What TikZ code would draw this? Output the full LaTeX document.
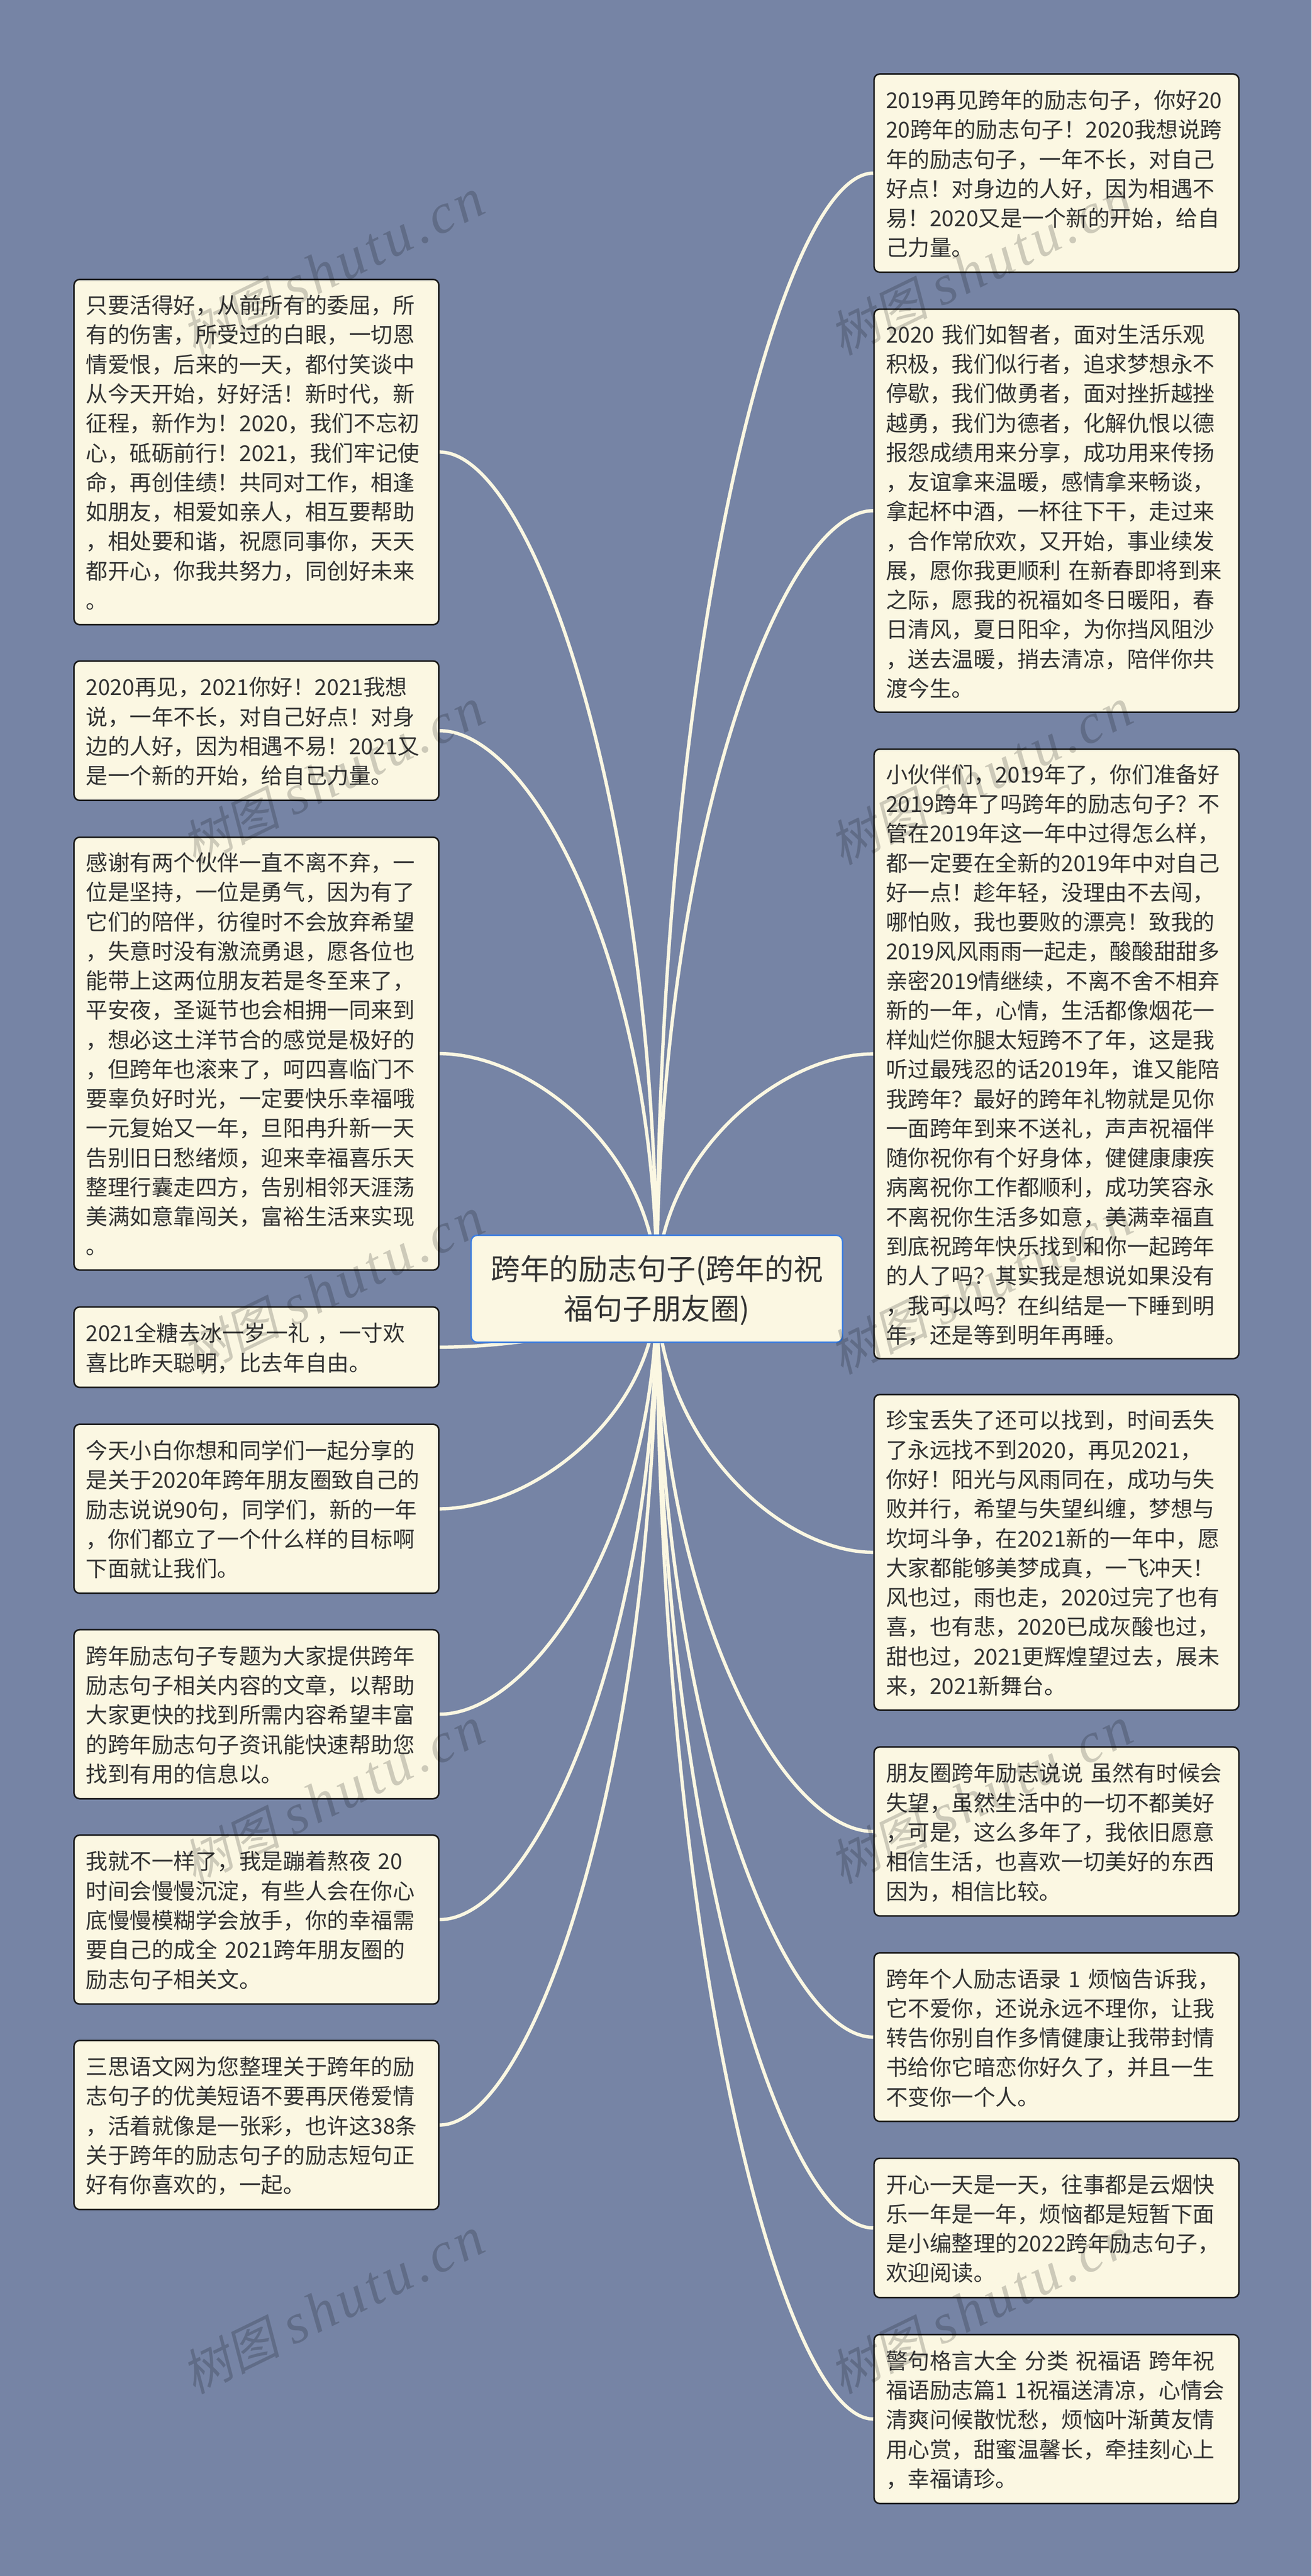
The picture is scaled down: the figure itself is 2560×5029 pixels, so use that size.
\documentclass[tikz,border=0pt]{standalone}
\usepackage{fontspec}
\usetikzlibrary{calc}
\setmainfont{Noto Sans CJK SC}
\newfontfamily\wmcjk[FakeSlant=0.2]{Noto Sans CJK SC}
\newfontfamily\wmlat[LetterSpace=7]{Liberation Serif}
\definecolor{bgc}{RGB}{118,132,165}
\definecolor{boxc}{RGB}{251,247,226}
\definecolor{txtc}{RGB}{51,51,51}
\definecolor{edgec}{RGB}{26,26,26}
\definecolor{hubc}{RGB}{62,126,224}
\pgfdeclarelayer{back}
\pgfsetlayers{back,main}
\begingroup
\catcode`\,=\active\catcode`\!=\active\catcode`\?=\active
\gdef\fwpunct{\catcode`\,=\active\catcode`\!=\active\catcode`\?=\active
  \def,{^^^^ff0c}\def!{^^^^ff01}\def?{^^^^ff1f}}
\endgroup
\newcommand{\lst}{\vrule width 0pt height 46.5pt depth 11.1pt}
\newcommand{\hst}{\vrule width 0pt height 60pt depth 16.8pt}
\newcommand{\conn}[1]{\draw[link] (hub.center) .. controls ($(hub.center)!0.57!(hub.center |- #1.east)$) and ($(#1.east)!0.43!(hub.center |- #1.east)$) .. (#1.east);}
\newcommand{\connr}[1]{\draw[link] (hub.center) .. controls ($(hub.center)!0.57!(hub.center |- #1.west)$) and ($(#1.west)!0.43!(hub.center |- #1.west)$) .. (#1.west);}
\tikzset{
  leaf/.style={draw=edgec,fill=boxc,line width=3pt,rounded corners=11pt,anchor=north west,
    minimum width=712pt,text width=666pt,inner sep=0pt,align=left,text=txtc,
    font=\fontsize{42.8pt}{57.6pt}\selectfont,
    execute at begin node={\fwpunct\lst},execute at end node=\lst},
  hubnode/.style={draw=hubc,fill=boxc,line width=3pt,rounded corners=12pt,anchor=north west,
    minimum width=725pt,minimum height=209pt,text width=680pt,inner sep=0pt,align=center,text=txtc,
    font=\fontsize{57.2pt}{76.8pt}\selectfont,
    execute at begin node=\hst,execute at end node=\hst},
  link/.style={draw=boxc,line width=6.5pt},
  wm/.style={rotate=26,anchor=center,inner sep=0pt,text=black,text opacity=0.18,
    font=\fontsize{110pt}{110pt}\selectfont}
}
\begin{document}
\begin{tikzpicture}[x=1pt,y=-1pt]
\useasboundingbox (0,0) rectangle (2560,5029);
\node[hubnode] (hub) at (918,2410) {跨年的励志句子(跨年的祝\\福句子朋友圈)};
\node[leaf,minimum height=674pt] (a1) at (143,544) {只要活得好,从前所有的委屈,所\\有的伤害,所受过的白眼,一切恩\\情爱恨,后来的一天,都付笑谈中\\从今天开始,好好活!新时代,新\\征程,新作为!2020,我们不忘初\\心,砥砺前行!2021,我们牢记使\\命,再创佳绩!共同对工作,相逢\\如朋友,相爱如亲人,相互要帮助\\,相处要和谐,祝愿同事你,天天\\都开心,你我共努力,同创好未来\\。};
\node[leaf,minimum height=272pt] (a2) at (143,1289) {2020再见,2021你好!2021我想\\说,一年不长,对自己好点!对身\\边的人好,因为相遇不易!2021又\\是一个新的开始,给自己力量。};
\node[leaf,minimum height=845pt] (a3) at (143,1633) {感谢有两个伙伴一直不离不弃,一\\位是坚持,一位是勇气,因为有了\\它们的陪伴,彷徨时不会放弃希望\\,失意时没有激流勇退,愿各位也\\能带上这两位朋友若是冬至来了,\\平安夜,圣诞节也会相拥一同来到\\,想必这土洋节合的感觉是极好的\\,但跨年也滚来了,呵四喜临门不\\要辜负好时光,一定要快乐幸福哦\\一元复始又一年,旦阳冉升新一天\\告别旧日愁绪烦,迎来幸福喜乐天\\整理行囊走四方,告别相邻天涯荡\\美满如意靠闯关,富裕生活来实现\\。};
\node[leaf,minimum height=157pt] (a4) at (143,2550) {2021全糖去冰一岁一礼 ,一寸欢\\喜比昨天聪明,比去年自由。};
\node[leaf,minimum height=330pt] (a5) at (143,2779) {今天小白你想和同学们一起分享的\\是关于2020年跨年朋友圈致自己的\\励志说说90句,同学们,新的一年\\,你们都立了一个什么样的目标啊\\下面就让我们。};
\node[leaf,minimum height=330pt] (a6) at (143,3180) {跨年励志句子专题为大家提供跨年\\励志句子相关内容的文章,以帮助\\大家更快的找到所需内容希望丰富\\的跨年励志句子资讯能快速帮助您\\找到有用的信息以。};
\node[leaf,minimum height=330pt] (a7) at (143,3581) {我就不一样了,我是蹦着熬夜 20\\时间会慢慢沉淀,有些人会在你心\\底慢慢模糊学会放手,你的幸福需\\要自己的成全 2021跨年朋友圈的\\励志句子相关文。};
\node[leaf,minimum height=330pt] (a8) at (143,3982) {三思语文网为您整理关于跨年的励\\志句子的优美短语不要再厌倦爱情\\,活着就像是一张彩,也许这38条\\关于跨年的励志句子的励志短句正\\好有你喜欢的,一起。};
\node[leaf,minimum height=387pt] (b1) at (1704.5,143) {2019再见跨年的励志句子,你好20\\20跨年的励志句子!2020我想说跨\\年的励志句子,一年不长,对自己\\好点!对身边的人好,因为相遇不\\易!2020又是一个新的开始,给自\\己力量。};
\node[leaf,minimum height=787pt] (b2) at (1704.5,602) {2020 我们如智者,面对生活乐观\\积极,我们似行者,追求梦想永不\\停歇,我们做勇者,面对挫折越挫\\越勇,我们为德者,化解仇恨以德\\报怨成绩用来分享,成功用来传扬\\,友谊拿来温暖,感情拿来畅谈,\\拿起杯中酒,一杯往下干,走过来\\,合作常欣欢,又开始,事业续发\\展,愿你我更顺利 在新春即将到来\\之际,愿我的祝福如冬日暖阳,春\\日清风,夏日阳伞,为你挡风阻沙\\,送去温暖,捎去清凉,陪伴你共\\渡今生。};
\node[leaf,minimum height=1190pt] (b3) at (1704.5,1461) {小伙伴们,2019年了,你们准备好\\2019跨年了吗跨年的励志句子?不\\管在2019年这一年中过得怎么样,\\都一定要在全新的2019年中对自己\\好一点!趁年轻,没理由不去闯,\\哪怕败,我也要败的漂亮!致我的\\2019风风雨雨一起走,酸酸甜甜多\\亲密2019情继续,不离不舍不相弃\\新的一年,心情,生活都像烟花一\\样灿烂你腿太短跨不了年,这是我\\听过最残忍的话2019年,谁又能陪\\我跨年?最好的跨年礼物就是见你\\一面跨年到来不送礼,声声祝福伴\\随你祝你有个好身体,健健康康疾\\病离祝你工作都顺利,成功笑容永\\不离祝你生活多如意,美满幸福直\\到底祝跨年快乐找到和你一起跨年\\的人了吗?其实我是想说如果没有\\,我可以吗?在纠结是一下睡到明\\年,还是等到明年再睡。};
\node[leaf,minimum height=616pt] (b4) at (1704.5,2721) {珍宝丢失了还可以找到,时间丢失\\了永远找不到2020,再见2021,\\你好!阳光与风雨同在,成功与失\\败并行,希望与失望纠缠,梦想与\\坎坷斗争,在2021新的一年中,愿\\大家都能够美梦成真,一飞冲天!\\风也过,雨也走,2020过完了也有\\喜,也有悲,2020已成灰酸也过,\\甜也过,2021更辉煌望过去,展未\\来,2021新舞台。};
\node[leaf,minimum height=330pt] (b5) at (1704.5,3409) {朋友圈跨年励志说说 虽然有时候会\\失望,虽然生活中的一切不都美好\\,可是,这么多年了,我依旧愿意\\相信生活,也喜欢一切美好的东西\\因为,相信比较。};
\node[leaf,minimum height=329pt] (b6) at (1704.5,3811) {跨年个人励志语录 1 烦恼告诉我,\\它不爱你,还说永远不理你,让我\\转告你别自作多情健康让我带封情\\书给你它暗恋你好久了,并且一生\\不变你一个人。};
\node[leaf,minimum height=272pt] (b7) at (1704.5,4212) {开心一天是一天,往事都是云烟快\\乐一年是一年,烦恼都是短暂下面\\是小编整理的2022跨年励志句子,\\欢迎阅读。};
\node[leaf,minimum height=330pt] (b8) at (1704.5,4556) {警句格言大全 分类 祝福语 跨年祝\\福语励志篇1 1祝福送清凉,心情会\\清爽问候散忧愁,烦恼叶渐黄友情\\用心赏,甜蜜温馨长,牵挂刻心上\\,幸福请珍。};
\begin{pgfonlayer}{back}
\fill[bgc] (0,0) rectangle (2560,5029);
\foreach \n in {a1,a2,a3,a4,a5,a6,a7,a8}{\conn{\n}}
\foreach \n in {b1,b2,b3,b4,b5,b6,b7,b8}{\connr{\n}}
\end{pgfonlayer}
\foreach \i in {0,...,4}{
  \node[wm] (wl\i) at ({650},{521+995*\i}) {{\fontsize{96pt}{96pt}\selectfont\wmcjk 树图} {\wmlat\itshape shutu.cn}};
  \node[wm] (wr\i) at ({1915},{521+995*\i}) {{\fontsize{96pt}{96pt}\selectfont\wmcjk 树图} {\wmlat\itshape shutu.cn}};
}
\end{tikzpicture}
\end{document}
